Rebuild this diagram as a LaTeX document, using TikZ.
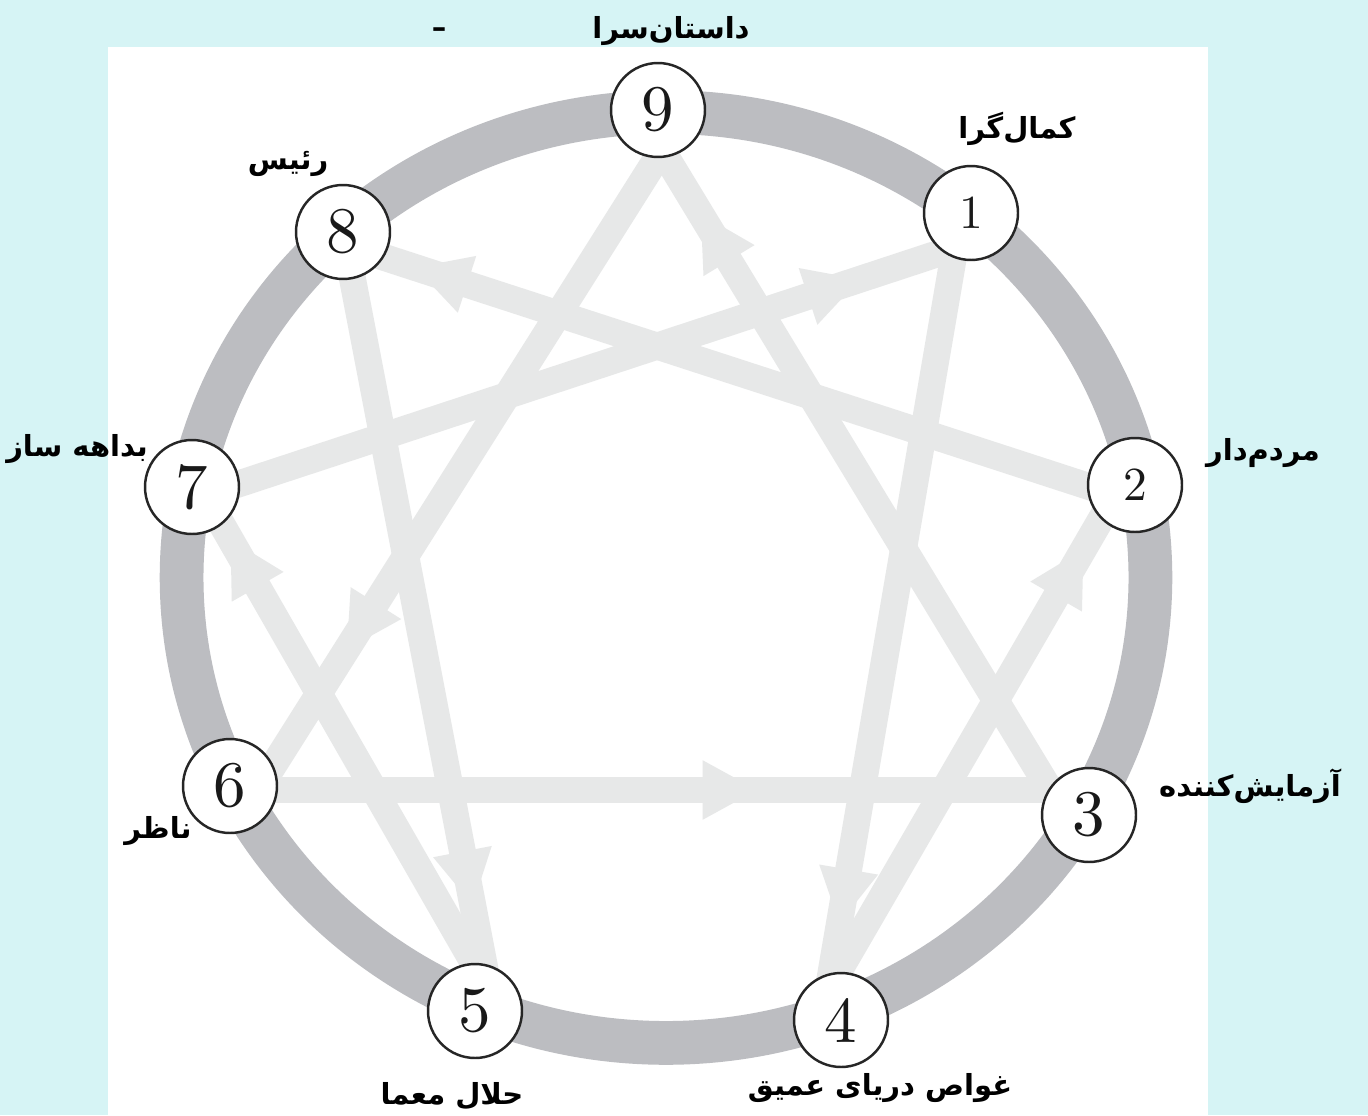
\documentclass[tikz,border=0pt]{standalone}
\usepackage{fontspec}
\usetikzlibrary{calc}
\TeXXeTstate=1
\newfontfamily\fafont[Script=Arabic]{DejaVu Sans}
\newfontfamily\numfont{lmroman10-regular.otf}
\definecolor{bgcyan}{RGB}{214,244,245}
\definecolor{ringgray}{RGB}{188,189,193}
\definecolor{stargray}{RGB}{231,232,232}
\tikzset{
  ringline/.style={draw=ringgray, line width=24.9pt},
  starline/.style={draw=stargray, line width=15.3pt},
  arrowhd/.style={fill=stargray},
  numnode/.style={circle, draw=black!85, line width=1.4pt, fill=white,
    minimum size=1.88cm, inner sep=0pt, text=black!90,
    font=\numfont\fontsize{37}{40}\selectfont},
  smallnum/.style={font=\numfont\fontsize{27}{29}\selectfont},
  lbl/.style={font=\fafont\bfseries\fontsize{16.5}{19}\selectfont, inner sep=0pt},
}
\newcommand{\enarrow}[3]{%
  \path ($(#1)!#3!(#2)$) coordinate (atip);
  \path ($(atip)!31pt!(#1)$) coordinate (abase);
  \fill[arrowhd] (atip) -- ($(abase)!17pt!90:(atip)$) -- ($(abase)!17pt!-90:(atip)$) -- cycle;}
\begin{document}
\begin{tikzpicture}[x=0.02cm,y=-0.02cm]
\useasboundingbox (0,0) rectangle (1368,1115);
\fill[bgcyan] (0,0) rectangle (1368,1115);
\fill[white] (108,47) rectangle (1208,1115);
\draw[ringline] (666,577.5) ellipse [x radius=9.69cm, y radius=9.31cm];
% star vertices
\coordinate (v9) at (662,150);
\coordinate (v1) at (955,248);
\coordinate (v2) at (1115,495);
\coordinate (v3) at (1050,790);
\coordinate (v4) at (828,990);
\coordinate (v5) at (489,990);
\coordinate (v6) at (258,790);
\coordinate (v7) at (205,495);
\coordinate (v8) at (346,245);
% lines
\draw[starline] (v9) -- (v6);
\draw[starline] (v6) -- (v3);
\draw[starline] (v3) -- (v9);
\draw[starline] (v1) -- (v4);
\draw[starline] (v4) -- (v2);
\draw[starline] (v2) -- (v8);
\draw[starline] (v8) -- (v5);
\draw[starline] (v5) -- (v7);
\draw[starline] (v7) -- (v1);
% arrowheads
\enarrow{v9}{v6}{0.78}
\enarrow{v6}{v3}{0.63}
\enarrow{v3}{v9}{0.90}
\enarrow{v1}{v4}{0.91}
\enarrow{v4}{v2}{0.89}
\enarrow{v2}{v8}{0.91}
\enarrow{v8}{v5}{0.886}
\enarrow{v5}{v7}{0.91}
\enarrow{v7}{v1}{0.873}
% number nodes
\node[numnode] (n9) at (658,110) {9};
\node[numnode, smallnum] (n1) at (971,213) {1};
\node[numnode, smallnum] (n2) at (1135,485) {2};
\node[numnode] (n3) at (1089,815) {3};
\node[numnode] (n4) at (841,1020) {4};
\node[numnode] (n5) at (475,1011) {5};
\node[numnode] (n6) at (230,786) {6};
\node[numnode] (n7) at (192,487) {7};
\node[numnode] (n8) at (343,232) {8};
% labels
\node[lbl] (dash) at (439,33) {–};
\node[lbl] (t9) at (671,31) {\beginR داستان‌سرا\endR};
\node[lbl] (t1) at (1017,129) {\beginR کمال‌گرا\endR};
\node[lbl] (t8) at (288,164) {\beginR رئیس\endR};
\node[lbl] (t7) at (77,449) {\beginR بداهه ساز\endR};
\node[lbl] (t2) at (1263,453) {\beginR مردم‌دار\endR};
\node[lbl] (t3) at (1250,786) {\beginR آزمایش‌کننده\endR};
\node[lbl] (t6) at (158,831) {\beginR ناظر\endR};
\node[lbl] (t5) at (452,1096) {\beginR حلال معما\endR};
\node[lbl] (t4) at (880,1088) {\beginR غواص دریای عمیق\endR};
\end{tikzpicture}
\end{document}
